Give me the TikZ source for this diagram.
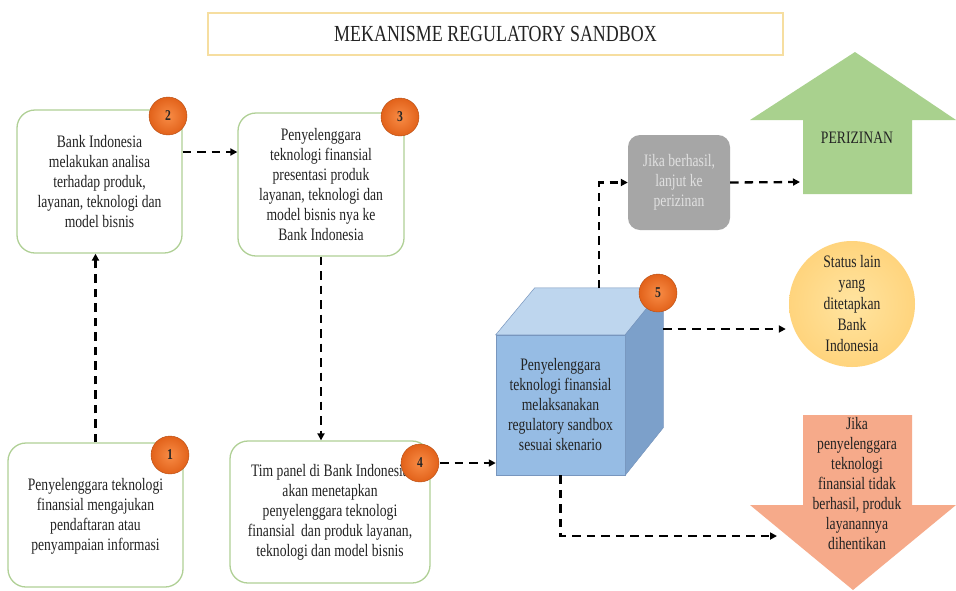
\documentclass[tikz,border=0pt]{standalone}
\usepackage{fontspec}
\setmainfont{Liberation Serif}[FakeStretch=0.78]
\usetikzlibrary{arrows.meta,calc}
\definecolor{boxline}{RGB}{176,208,150}
\definecolor{titleline}{RGB}{246,222,160}
\definecolor{badgein}{RGB}{248,140,70}
\definecolor{badgeout}{RGB}{226,98,26}
\definecolor{cubefront}{RGB}{150,188,228}
\definecolor{cubetop}{RGB}{190,214,238}
\definecolor{cubeside}{RGB}{124,160,202}
\definecolor{cubeedge}{RGB}{120,150,190}
\definecolor{greybox}{RGB}{166,166,166}
\definecolor{greentop}{RGB}{169,209,142}
\definecolor{yellowc}{RGB}{255,212,125}
\definecolor{yellowin}{RGB}{255,228,160}
\definecolor{salmon}{RGB}{246,170,138}
\definecolor{txtcol}{RGB}{35,35,35}
\begin{document}
\begin{tikzpicture}[x=1pt,y=-1pt,
  txt/.style={font=\fontsize{17.5}{20}\selectfont, text=txtcol, align=center},
  stepbox/.style={txt, draw=boxline, line width=1.3pt, rounded corners=18pt, fill=white, inner sep=0pt},
  badge/.style={circle, minimum size=38pt, inner sep=0pt, inner color=badgein, outer color=badgeout, draw=badgeout!80!black, line width=0.4pt, font=\fontsize{15}{15}\selectfont\bfseries, text=black!85},
  conn/.style={line width=2.3pt, dash pattern=on 8.5pt off 6pt, -{Triangle[length=7pt,width=7pt]}}
]
\useasboundingbox (0,0) rectangle (956,590);
\fill[white] (0,0) rectangle (956,590);

% title
\node[draw=titleline, line width=1.2pt, minimum width=575pt, minimum height=42pt, inner sep=0pt,
  font=\fontsize{23}{24}\selectfont, text=txtcol] (title) at (495.5,34) {MEKANISME REGULATORY SANDBOX};

% step boxes
\node[stepbox, minimum width=175pt, minimum height=144pt] (b1) at (95.5,515)
  {\rule{0pt}{14pt}Penyelenggara teknologi\\finansial mengajukan\\pendaftaran atau\\penyampaian informasi};
\node[stepbox, minimum width=165pt, minimum height=143pt] (b2) at (99.5,181.5)
  {Bank Indonesia\\melakukan analisa\\terhadap produk,\\layanan, teknologi dan\\model bisnis};
\node[stepbox, minimum width=166pt, minimum height=143pt] (b3) at (321,184.5)
  {Penyelenggara\\teknologi finansial\\presentasi produk\\layanan, teknologi dan\\model bisnis nya ke\\Bank Indonesia};
\node[stepbox, minimum width=200pt, minimum height=142pt] (b4) at (330,512)
  {Tim panel di Bank Indonesia\\akan menetapkan\\penyelenggara teknologi\\finansial\, dan produk layanan,\\teknologi dan model bisnis};

% cube
\node[txt, fill=cubefront, draw=cubeedge, line width=0.5pt, minimum width=129pt, minimum height=140pt, inner sep=0pt] (b5) at (560.5,405)
  {Penyelenggara\\teknologi finansial\\melaksanakan\\regulatory sandbox\\sesuai skenario};
\filldraw[fill=cubetop, draw=cubeedge, line width=0.5pt] (b5.north west) -- ++(39,-47) -- ++(129,0) -- (b5.north east) -- cycle;
\filldraw[fill=cubeside, draw=cubeedge, line width=0.5pt] (b5.north east) -- ++(38,-47) -- ++(0,140) -- (b5.south east) -- cycle;
\coordinate (cubetopc) at (599,288);
\coordinate (cubesidec) at (663,329);

% badges
\node[badge] (n1) at (170,455) {1};
\node[badge] (n2) at (168,116) {2};
\node[badge] (n3) at (400,117) {3};
\node[badge] (n4) at (420,463) {4};
\node[badge] (n5) at (658,293) {5};

% grey box
\node[txt, text=white!88!black, fill=greybox, rounded corners=12pt, minimum width=102pt, minimum height=95pt, inner sep=0pt] (grey) at (679,182.5)
  {Jika berhasil,\\lanjut ke\\perizinan};

% green arrow (perizinan)
\fill[greentop] (803,194) -- (803,120) -- (750,120) -- (855,52) -- (956,120) -- (912,120) -- (912,194) -- cycle;
\node[txt] (perizinan) at (857,138) {PERIZINAN};
\coordinate (grnin) at (800,182);

% yellow circle
\node[txt, circle, minimum size=126pt, inner sep=0pt, inner color=yellowin, outer color=yellowc, font=\fontsize{17.5}{21}\selectfont] (circ) at (852,304)
  {Status lain\\yang\\ditetapkan\\Bank\\Indonesia};

% red arrow
\fill[salmon] (803,415) -- (912,415) -- (912,505) -- (956,505) -- (853,590) -- (750,505) -- (803,505) -- cycle;
\node[txt] (stop) at (857,484)
  {Jika\\penyelenggara\\teknologi\\finansial tidak\\berhasil, produk\\layanannya\\dihentikan};
\coordinate (redin) at (777,536);

% connectors
\draw[conn] (b1.north) -- (b1.north |- b2.south);
\draw[conn] ([yshift=29.5pt]b2.east) -- ([yshift=29.5pt]b2.east -| b3.west);
\draw[conn] (b3.south) -- (b3.south |- b4.north);
\draw[conn] ([xshift=1pt]n4.east) -- (n4.east -| b5.west);
\draw[conn] (cubetopc) |- (grey.west);
\draw[conn] (grey.east) -- (grnin);
\draw[conn] (cubesidec) -- ([xshift=-3pt]circ.west |- cubesidec);
\draw[conn] (b5.south) |- (redin);
\end{tikzpicture}
\end{document}
